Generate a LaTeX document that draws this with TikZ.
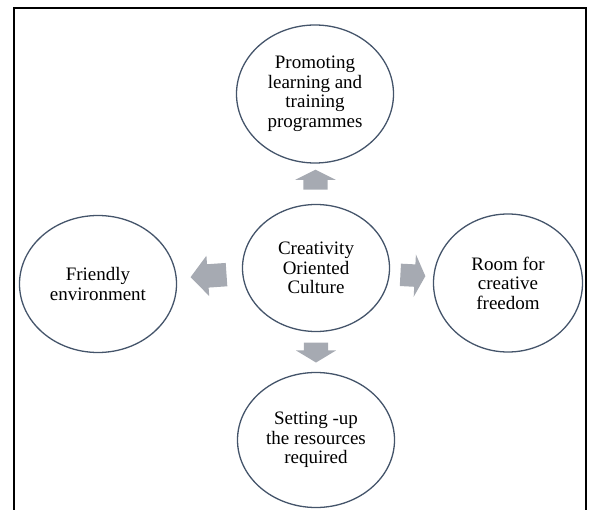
\documentclass[tikz,border=0pt]{standalone}
\usepackage{fontspec}
\setmainfont{Liberation Serif}
\usetikzlibrary{shapes.geometric,shapes.arrows,calc}
\definecolor{rimblue}{HTML}{44546A}
\definecolor{arrowgray}{RGB}{166,170,178}

\begin{document}
\begin{tikzpicture}[x=1pt,y=-1pt,
    bubble/.style={ellipse,draw=rimblue,line width=1.3pt,align=center,inner sep=0pt,
      font=\fontsize{19}{19.5}\selectfont},
    blockarrow/.style={single arrow,fill=arrowgray,draw=none,inner xsep=0pt,
      inner ysep=12pt,minimum width=0pt,single arrow head extend=8pt}]
  % Tunables
  \def\arrpos{0.49}   % where a block arrow sits between the centre and a bubble

  \useasboundingbox (0,0) rectangle (596,510);

  % frame, open at the bottom
  \draw[line width=1.6pt] (14,510) -- (14,8) -- (586,8) -- (586,510);

  % bubbles
  \node[bubble,minimum width=147pt,minimum height=127pt] (culture) at (316,268)
    {Creativity\\Oriented\\Culture};
  \node[bubble,minimum width=157pt,minimum height=138pt] (promo) at (315,94)
    {Promoting\\learning and\\training\\programmes};
  \node[bubble,minimum width=157pt,minimum height=137pt] (friendly) at (98,284)
    {Friendly\\environment};
  \node[bubble,minimum width=149pt,minimum height=138pt] (room) at (508,283)
    {Room for\\creative\\freedom};
  \node[bubble,minimum width=157pt,minimum height=135pt] (setup) at (316,440)
    {Setting -up\\the resources\\required};

  % block arrows from the centre outwards
  \node[blockarrow,minimum height=20pt,single arrow tip angle=127,rotate=90]
    (uparrow) at ($(culture)!\arrpos!(promo)$) {};
  \node[blockarrow,minimum height=20pt,single arrow tip angle=118,rotate=-90]
    (downarrow) at ($(culture)!0.47!(setup)$) {};
  \node[blockarrow,minimum height=36pt,single arrow tip angle=99,rotate=184,
    inner ysep=11.5pt,single arrow head extend=8.5pt]
    (leftarrow) at ($(culture)!0.47!(friendly)$) {};
  \node[blockarrow,minimum height=25pt,single arrow tip angle=127,rotate=-3,
    inner ysep=11pt,single arrow head extend=10pt]
    (rightarrow) at ($(culture)!\arrpos!(room)$) {};
\end{tikzpicture}
\end{document}
